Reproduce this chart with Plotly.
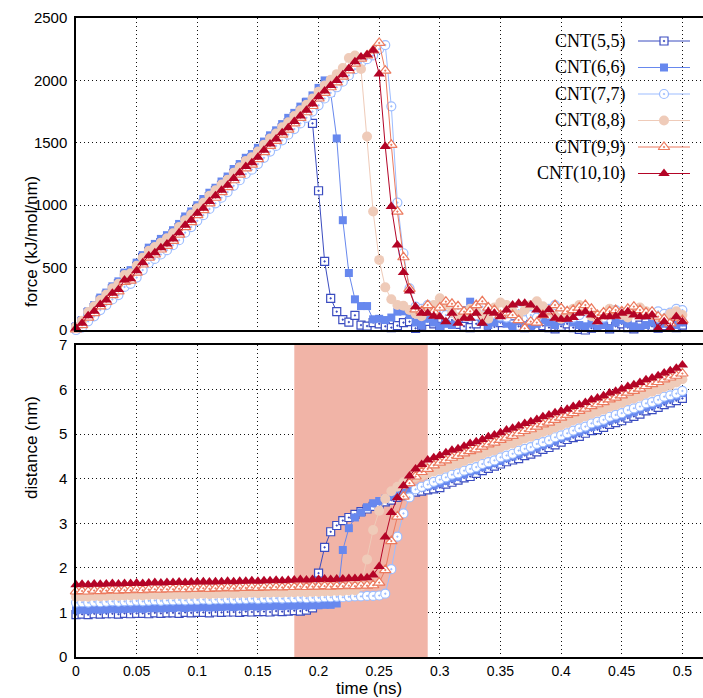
import plotly.graph_objects as go

# sampling times (ns), every 5 ps
times = [round(0.005 * i, 3) for i in range(101)]

names = ["CNT(5,5)", "CNT(6,6)", "CNT(7,7)", "CNT(8,8)", "CNT(9,9)", "CNT(10,10)"]

# pulling force (kJ/mol/nm)
force_55 = [20, 70, 140, 180, 240, 280, 330, 370, 440, 450, 510, 580, 630, 660, 700, 730, 770, 820, 880, 920,
            975, 1015, 1070, 1115, 1160, 1200, 1255, 1300, 1350, 1380, 1425, 1480, 1530, 1570, 1620, 1660, 1710,
            1755, 1820,
            1656, 1116, 550, 254, 147, 83, 64, 118, 40, 32, 60,
            50, 30, 20, 35, 60, 67, 14, 40, 70, 50, 30, 60, 80, 45, 30, 20, 50, 70, 40, 25, 60, 80, 50, 30, 20,
            45, 60, 35, 20, 10, 30, 50, 20, 5, 0, 15, 40, 25, 10, 30, 50, 20, 10, 40, 60, 30, 15, 35, 50, 20, 40]
force_66 = [30, 80, 150, 200, 260, 300, 350, 390, 460, 480, 540, 600, 660, 690, 730, 760, 800, 850, 910, 950,
            1000, 1050, 1100, 1140, 1190, 1230, 1290, 1330, 1380, 1410, 1460, 1510, 1560, 1600, 1650, 1700, 1740,
            1790, 1830, 1880, 1940, 2000,
            1900, 1535, 880, 457, 246, 192, 192, 86, 90, 80, 100, 147,
            150, 120, 60, 40, 90, 60, 30, 50, 40, 100, 160, 227, 130, 70, 40, 60, 90, 50, 30, 70, 40, 20, 50, 80,
            60, 40, 70, 90, 60, 40, 30, 50, 20, 40, 13, 60, 80, 50, 30, 20, 40, 60, 30, 50, 70, 40, 60]
force_77 = [0, 20, 70, 110, 160, 200, 245, 280, 345, 370, 420, 480, 535, 570, 605, 640, 680, 720, 780, 825,
            875, 920, 970, 1015, 1060, 1105, 1155, 1200, 1250, 1285, 1330, 1380, 1430, 1475, 1520, 1565, 1610,
            1655, 1700, 1750, 1800, 1855, 1900, 1945, 1990, 2040, 2090, 2140, 2170, 2200, 2250,
            2283, 1792, 1021, 615, 334, 187, 170, 200,
            180, 150, 120, 140, 170, 130, 110, 120, 187, 160, 130, 110, 100, 140, 160, 150, 120, 100, 140, 170,
            200, 160, 130, 100, 120, 150, 130, 110, 100, 140, 160, 130, 120, 150, 170, 140, 120, 150, 130, 140,
            170, 160]
force_88 = [25, 75, 145, 190, 240, 285, 335, 370, 440, 455, 515, 580, 635, 665, 700, 735, 775, 825, 880, 925,
            975, 1020, 1075, 1120, 1165, 1205, 1260, 1305, 1355, 1385, 1430, 1485, 1535, 1575, 1625, 1665, 1715,
            1760, 1805, 1855, 1910, 1960, 2005, 2050, 2100,
            2180, 2200, 2092, 1551, 949, 562, 342, 246, 200, 195, 160,
            130, 110, 150, 200, 254, 200, 140, 100, 130, 170, 150, 110, 90, 180, 220, 200, 150, 120, 160, 200,
            230, 190, 150, 110, 90, 130, 170, 200, 160, 110, 80, 130, 170, 150, 120, 100, 140, 180, 150, 120,
            100, 90, 130, 150, 120]
force_99 = [5, 40, 100, 135, 190, 225, 280, 310, 385, 395, 460, 525, 580, 605, 645, 675, 715, 765, 825, 865,
            920, 960, 1015, 1060, 1105, 1145, 1200, 1245, 1295, 1325, 1370, 1425, 1475, 1515, 1565, 1605, 1655,
            1700, 1745, 1795, 1855, 1900, 1945, 1985, 2030, 2080, 2135, 2175, 2200, 2240,
            2300, 2078, 1484, 949, 583, 330,
            165, 150, 200, 147, 180, 227, 210, 190, 147, 150, 200, 230, 180, 160, 120, 140, 120, 80, 13, 67,
            60, 120, 150, 200, 174, 150, 160, 180, 200, 170, 120, 140, 150, 160, 150, 170, 187, 160, 140, 147,
            107, 90, 54, 100, 80]
force_1010 = [15, 55, 115, 150, 205, 240, 295, 325, 400, 410, 475, 540, 595, 620, 660, 690, 730, 780, 840, 880,
              935, 975, 1030, 1075, 1120, 1160, 1215, 1260, 1310, 1340, 1385, 1440, 1490, 1530, 1580, 1620, 1670,
              1715, 1760, 1810, 1870, 1915, 1960, 2000, 2045, 2095, 2150, 2188, 2206, 2241,
              2051, 1471, 989, 682, 460, 313,
              187, 134, 134, 110, 107, 67, 134, 54, 94, 94, 134, 54, 147, 134, 107, 160, 200, 214, 214, 200,
              160, 120, 163, 94, 87, 87, 100, 134, 147, 120, 67, 107, 107, 110, 134, 147, 120, 107, 107, 120,
              13, 67, 13, 107, 67]

# distance (nm)
dist_55 = [0.95, 0.96, 0.95, 0.97, 0.96, 0.97, 0.97, 0.96, 0.98, 0.97, 0.98, 0.98, 0.97, 0.99, 0.98, 0.99,
           0.99, 0.98, 1.00, 0.99, 1.00, 1.00, 0.99, 1.01, 1.00, 1.01, 1.01, 1.00, 1.02, 1.01, 1.02, 1.02,
           1.01, 1.03, 1.02, 1.03, 1.04, 1.03, 1.05, 1.10,
           1.88, 2.46, 2.81, 2.95, 3.06, 3.13, 3.20, 3.26, 3.32, 3.38, 3.42, 3.48, 3.52, 3.58, 3.62, 3.66,
           3.70, 3.72, 3.75, 3.77, 3.80,
           3.88, 3.92, 3.97, 4.02, 4.05, 4.12, 4.18, 4.23, 4.28, 4.33, 4.38, 4.42, 4.45, 4.52, 4.55, 4.60,
           4.66, 4.70, 4.76, 4.82, 4.88, 4.92, 4.95, 5.02, 5.08, 5.10, 5.15, 5.22, 5.26, 5.30, 5.36, 5.40,
           5.45, 5.52, 5.55, 5.60, 5.66, 5.70, 5.75, 5.80]
dist_66 = [1.05, 1.06, 1.05, 1.07, 1.06, 1.07, 1.08, 1.07, 1.08, 1.08, 1.09, 1.08, 1.09, 1.10, 1.09, 1.10,
           1.10, 1.11, 1.10, 1.11, 1.11, 1.12, 1.11, 1.12, 1.12, 1.13, 1.12, 1.13, 1.13, 1.14, 1.13, 1.14,
           1.14, 1.15, 1.14, 1.15, 1.15, 1.16, 1.15, 1.16, 1.16, 1.17, 1.17,
           1.20, 2.40, 2.89, 3.13, 3.24, 3.36, 3.45, 3.50, 3.55, 3.60, 3.64, 3.68, 3.72, 3.76, 3.80, 3.83,
           3.86, 3.90,
           3.95, 4.01, 4.04, 4.10, 4.16, 4.19, 4.26, 4.31, 4.35, 4.40, 4.46, 4.50, 4.55, 4.61, 4.65, 4.70,
           4.76, 4.80, 4.85, 4.91, 4.95, 5.01, 5.05, 5.10, 5.16, 5.20, 5.25, 5.31, 5.35, 5.40, 5.46, 5.50,
           5.55, 5.61, 5.65, 5.70, 5.76, 5.80, 5.85, 5.92]
dist_77 = [1.22, 1.23, 1.22, 1.24, 1.23, 1.24, 1.25, 1.24, 1.25, 1.25, 1.26, 1.25, 1.26, 1.27, 1.26, 1.27,
           1.27, 1.28, 1.27, 1.28, 1.28, 1.29, 1.28, 1.29, 1.29, 1.30, 1.29, 1.30, 1.30, 1.31, 1.30, 1.31,
           1.31, 1.32, 1.31, 1.32, 1.32, 1.33, 1.32, 1.33, 1.33, 1.34, 1.34, 1.35, 1.34, 1.35, 1.36, 1.36,
           1.37, 1.37, 1.38,
           1.42, 1.97, 2.70, 3.22, 3.58, 3.76, 3.82, 3.87, 3.93, 3.98,
           4.03, 4.09, 4.12, 4.18, 4.22, 4.26, 4.33, 4.37, 4.41, 4.48, 4.52, 4.56, 4.63, 4.67, 4.71, 4.78,
           4.82, 4.86, 4.93, 4.97, 5.02, 5.08, 5.13, 5.17, 5.24, 5.28, 5.32, 5.39, 5.43, 5.47, 5.54, 5.58,
           5.62, 5.69, 5.72, 5.77, 5.84, 5.87, 5.91, 5.97]
dist_88 = [1.35, 1.36, 1.35, 1.37, 1.36, 1.37, 1.38, 1.37, 1.38, 1.38, 1.39, 1.38, 1.39, 1.40, 1.39, 1.40,
           1.40, 1.41, 1.40, 1.41, 1.41, 1.42, 1.41, 1.42, 1.42, 1.43, 1.42, 1.43, 1.43, 1.44, 1.43, 1.44,
           1.44, 1.45, 1.44, 1.45, 1.45, 1.46, 1.45, 1.46, 1.46, 1.47, 1.47, 1.48, 1.48, 1.49, 1.50,
           1.60, 2.19, 2.85, 3.28, 3.55, 3.72, 3.82, 3.92, 3.98, 4.04, 4.08, 4.12, 4.16, 4.20,
           4.25, 4.30, 4.34, 4.40, 4.45, 4.49, 4.55, 4.60, 4.64, 4.70, 4.75, 4.79, 4.85, 4.90, 4.94, 5.00,
           5.05, 5.09, 5.15, 5.20, 5.25, 5.31, 5.35, 5.40, 5.46, 5.50, 5.55, 5.61, 5.65, 5.70, 5.76, 5.80,
           5.85, 5.91, 5.95, 6.00, 6.06, 6.10, 6.16, 6.23]
dist_99 = [1.47, 1.48, 1.47, 1.49, 1.48, 1.49, 1.50, 1.49, 1.50, 1.50, 1.51, 1.50, 1.51, 1.52, 1.51, 1.52,
           1.52, 1.53, 1.52, 1.53, 1.53, 1.54, 1.53, 1.54, 1.54, 1.55, 1.54, 1.55, 1.55, 1.56, 1.55, 1.56,
           1.56, 1.57, 1.56, 1.57, 1.57, 1.58, 1.57, 1.58, 1.58, 1.59, 1.58, 1.59, 1.59, 1.60, 1.59, 1.60,
           1.60, 1.61,
           1.67, 1.95, 2.60, 3.15, 3.60, 3.90, 4.05, 4.15, 4.22, 4.30, 4.36,
           4.41, 4.47, 4.51, 4.57, 4.62, 4.66, 4.72, 4.77, 4.81, 4.87, 4.92, 4.96, 5.02, 5.07, 5.11, 5.17,
           5.22, 5.26, 5.32, 5.37, 5.43, 5.47, 5.52, 5.57, 5.63, 5.67, 5.72, 5.78, 5.82, 5.87, 5.93, 5.97,
           6.02, 6.08, 6.12, 6.17, 6.23, 6.27, 6.31, 6.36]
dist_1010 = [1.62, 1.63, 1.62, 1.64, 1.63, 1.64, 1.65, 1.64, 1.65, 1.65, 1.66, 1.65, 1.66, 1.67, 1.66, 1.67,
             1.67, 1.68, 1.67, 1.68, 1.68, 1.69, 1.68, 1.69, 1.69, 1.70, 1.69, 1.70, 1.70, 1.71, 1.70, 1.71,
             1.71, 1.72, 1.71, 1.72, 1.73, 1.74, 1.73, 1.74, 1.74, 1.75, 1.74, 1.75, 1.75, 1.76, 1.76, 1.77,
             1.78,
             1.84, 2.03, 2.69, 3.24, 3.57, 3.84, 4.06, 4.22, 4.32, 4.42, 4.47, 4.52,
             4.58, 4.64, 4.67, 4.73, 4.79, 4.83, 4.88, 4.94, 4.98, 5.03, 5.09, 5.13, 5.18, 5.24, 5.28, 5.33,
             5.39, 5.43, 5.48, 5.52, 5.56, 5.62, 5.66, 5.71, 5.77, 5.81, 5.86, 5.92, 5.96, 6.01, 6.07, 6.11,
             6.16, 6.22, 6.26, 6.31, 6.37, 6.42, 6.48, 6.55]

forces = [force_55, force_66, force_77, force_88, force_99, force_1010]
dists = [dist_55, dist_66, dist_77, dist_88, dist_99, dist_1010]

x_ticks = [0, 0.05, 0.1, 0.15, 0.2, 0.25, 0.3, 0.35, 0.4, 0.45, 0.5]
x_ticktext = ["0", "0.05", "0.1", "0.15", "0.2", "0.25", "0.3", "0.35", "0.4", "0.45", "0.5"]
force_ticks = [0, 500, 1000, 1500, 2000, 2500]
dist_ticks = [0, 1, 2, 3, 4, 5, 6, 7]
window = (0.18, 0.29)

# style per tube: line colour, symbol, marker fill, marker size
styles = [
    ("#3b4cc0", "square-dot", "white", 8),
    ("#6788ee", "square", None, 8),
    ("#9dbdff", "circle-dot", "white", 9),
    ("#efcbb9", "circle", None, 10),
    ("#ec7a5e", "triangle-up-dot", "white", 10),
    ("#b40426", "triangle-up", None, 10),
]


def marker_for(color, symbol, fill, size):
    if fill is None:
        return dict(symbol=symbol, size=size, color=color, line=dict(width=0))
    return dict(symbol=symbol, size=size, color=fill, line=dict(color=color, width=1.2))


fig = go.Figure()
for name, f, d, (col, sym, fill, sz) in zip(names, forces, dists, styles):
    mk = marker_for(col, sym, fill, sz)
    fig.add_trace(go.Scatter(x=times, y=f, mode="lines+markers", line=dict(color=col, width=1),
                             marker=mk, cliponaxis=False, showlegend=False, xaxis="x", yaxis="y"))
    fig.add_trace(go.Scatter(x=times, y=d, mode="lines+markers", line=dict(color=col, width=1),
                             marker=mk, cliponaxis=False, showlegend=False, xaxis="x2", yaxis="y2"))

# gnuplot style key: label on the left, sample on the right (pixel coords on a hidden axis)
key_rows = [41, 67.5, 94, 120.5, 147, 173.5]
for name, yy, (col, sym, fill, sz) in zip(names, key_rows, styles):
    fig.add_trace(go.Scatter(x=[638, 690], y=[yy, yy], mode="lines", line=dict(color=col, width=1),
                             showlegend=False, xaxis="x3", yaxis="y3", hoverinfo="skip"))
    fig.add_trace(go.Scatter(x=[664], y=[yy], mode="markers", marker=marker_for(col, sym, fill, sz),
                             showlegend=False, xaxis="x3", yaxis="y3", hoverinfo="skip"))
    fig.add_annotation(x=628, y=yy, xref="x3", yref="y3", text=name, showarrow=False,
                       xanchor="right", yanchor="middle",
                       font=dict(family="Liberation Serif", size=18, color="black"))

grid = dict(showgrid=True, gridcolor="#111111", gridwidth=1, griddash="1px,3px", zeroline=False,
            showline=True, linecolor="black", linewidth=1.5, ticks="")
tickfont = dict(family="Liberation Sans", size=15, color="black")

top_dom = [0.5117, 1.0]
bot_dom = [0.0, 0.4883]

fig.update_layout(
    width=703, height=698,
    margin=dict(l=76, r=0, t=18, b=41),
    paper_bgcolor="white", plot_bgcolor="rgba(0,0,0,0)",
    font=dict(family="Liberation Sans", color="black"),
    xaxis=dict(domain=[0, 1], anchor="y", range=[0, 0.517], tickvals=x_ticks, showticklabels=False,
               mirror=True, **grid),
    yaxis=dict(domain=top_dom, anchor="x", range=[0, 2500], tickvals=force_ticks, tickfont=tickfont,
               ticklabelstandoff=4, **grid),
    xaxis2=dict(domain=[0, 1], anchor="y2", range=[0, 0.517], tickvals=x_ticks, ticktext=x_ticktext,
                tickfont=dict(family="Liberation Sans", size=14, color="black"), mirror=True, **grid),
    yaxis2=dict(domain=bot_dom, anchor="x2", range=[0, 7], tickvals=dist_ticks, tickfont=tickfont,
                ticklabelstandoff=4, **grid),
    xaxis3=dict(domain=[0, 1], anchor="y3", range=[76, 703], visible=False, fixedrange=True),
    yaxis3=dict(domain=[0, 1], anchor="x3", range=[657, 18], visible=False, fixedrange=True),
    shapes=[dict(type="rect", xref="x2", yref="y2", x0=window[0], x1=window[1], y0=0, y1=7,
                 fillcolor="#f1b4a7", line=dict(width=0), layer="between")],
)

title_font = dict(family="Liberation Sans", size=17, color="black")
fig.add_annotation(text="force (kJ/mol/nm)", xref="paper", yref="paper", x=0, xshift=-56,
                   y=sum(top_dom) / 2, textangle=-90, showarrow=False, font=title_font)
fig.add_annotation(text="distance (nm)", xref="paper", yref="paper", x=0, xshift=-56,
                   y=sum(bot_dom) / 2, textangle=-90, showarrow=False, font=title_font)
fig.add_annotation(text="time (ns)", xref="paper", yref="paper", x=0.467, y=0, yshift=-31,
                   yanchor="middle", showarrow=False, font=title_font)

# drop the default page margin so the figure sits at the window corner
fig.write_html("out.html", config={"displayModeBar": False},
               post_script="document.body.style.margin='0';")
